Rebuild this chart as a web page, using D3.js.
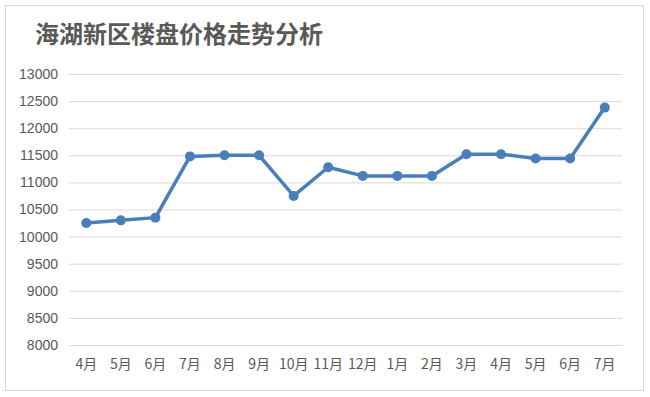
<!DOCTYPE html>
<html>
<head>
<meta charset="utf-8">
<script src="https://cdn.jsdelivr.net/npm/d3@7"></script>
<style>
  body { margin: 0; background: #fff; }
  svg { display: block; }
</style>
</head>
<body>
<script>
var months = ["4月", "5月", "6月", "7月", "8月", "9月", "10月", "11月", "12月", "1月", "2月", "3月", "4月", "5月", "6月", "7月"];
var prices = [10250, 10300, 10350, 11480, 11500, 11500, 10750, 11280, 11120, 11120, 11120, 11520, 11520, 11440, 11440, 12380];
var yTicks = [8000, 8500, 9000, 9500, 10000, 10500, 11000, 11500, 12000, 12500, 13000];
var title = "海湖新区楼盘价格走势分析";

var width = 650, height = 397;
// plot area (window.top is reserved, so no "top" here)
var plotLeft = 69, plotRight = 622, plotTop = 74, plotBottom = 345;

var svg = d3.select("body")
    .append("svg")
    .attr("width", width)
    .attr("height", height);

// chart frame
svg.append("rect")
    .attr("x", 5.5)
    .attr("y", 5.5)
    .attr("width", 638)
    .attr("height", 385)
    .attr("fill", "#fff")
    .attr("stroke", "#d9d9d9");

svg.append("text")
    .attr("x", 35)
    .attr("y", 43)
    .attr("font-family", "'Noto Sans CJK SC', sans-serif")
    .attr("font-size", 24)
    .attr("font-weight", "bold")
    .attr("fill", "#595959")
    .text(title);

var x = d3.scaleBand()
    .domain(d3.range(months.length))
    .range([plotLeft, plotRight]);

var y = d3.scaleLinear()
    .domain([8000, 13000])
    .range([plotBottom, plotTop]);

// horizontal grid
var yAxis = d3.axisLeft(y)
    .tickValues(yTicks)
    .tickSize(-(plotRight - plotLeft))
    .tickPadding(11)
    .tickFormat(d3.format("d"));

var gy = svg.append("g")
    .attr("transform", "translate(" + plotLeft + ",0)")
    .call(yAxis);
gy.select(".domain").remove();
gy.selectAll(".tick line")
    .attr("stroke", "#d9d9d9");
gy.selectAll(".tick text")
    .attr("font-family", "'Liberation Sans', Arial, sans-serif")
    .attr("font-size", 14)
    .attr("fill", "#595959");

var xAxis = d3.axisBottom(x)
    .tickSize(0)
    .tickPadding(14)
    .tickFormat(function(i) { return months[i]; });

var gx = svg.append("g")
    .attr("transform", "translate(0," + plotBottom + ")")
    .call(xAxis);
gx.select(".domain").attr("stroke", "#d9d9d9");
gx.selectAll(".tick text")
    .attr("font-family", "'Noto Sans CJK SC', sans-serif")
    .attr("font-size", 14)
    .attr("fill", "#595959");

var cx = function(d, i) { return x(i) + x.bandwidth() / 2; };

var line = d3.line()
    .x(cx)
    .y(function(d) { return y(d); });

svg.append("path")
    .datum(prices)
    .attr("d", line)
    .attr("fill", "none")
    .attr("stroke", "#4a7ebb")
    .attr("stroke-width", 3.5)
    .attr("stroke-linejoin", "round");

svg.selectAll(".dot")
    .data(prices)
    .enter()
    .append("circle")
    .attr("class", "dot")
    .attr("cx", cx)
    .attr("cy", function(d) { return y(d); })
    .attr("r", 5)
    .attr("fill", "#4a7ebb");
</script>
</body>
</html>
